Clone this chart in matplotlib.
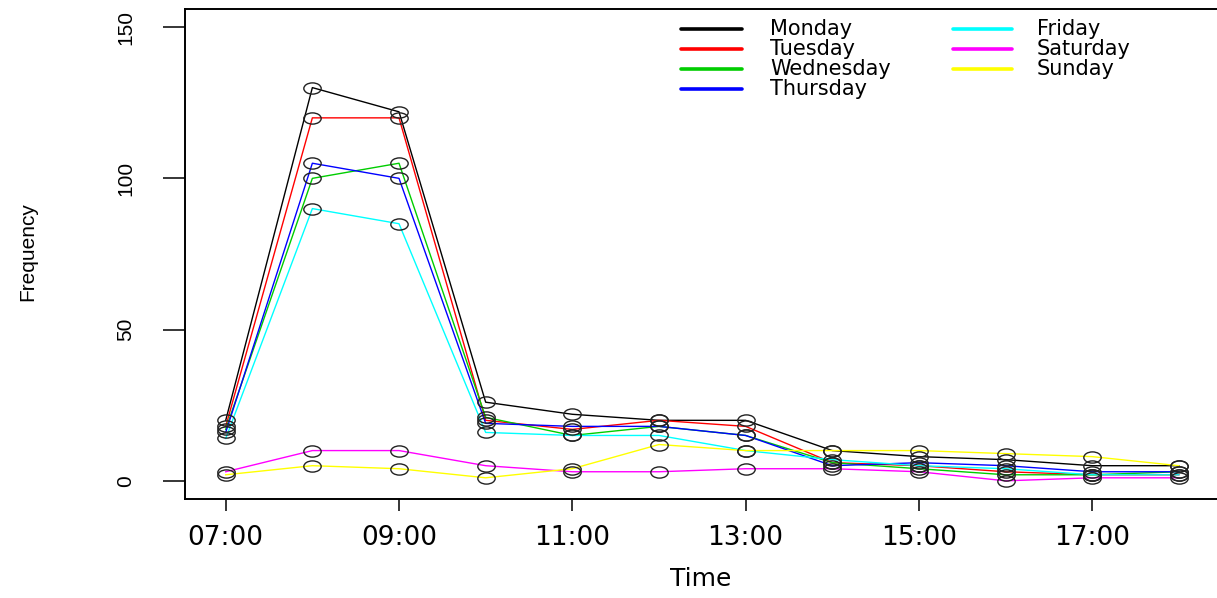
import numpy as np
import matplotlib
matplotlib.use("Agg")
import matplotlib.pyplot as plt
from matplotlib.path import Path

# hour of day for each observation
hours = [7, 8, 9, 10, 11, 12, 13, 14, 15, 16, 17, 18]

monday = [20, 130, 122, 26, 22, 20, 20, 10, 8, 7, 5, 5]
tuesday = [18, 120, 120, 20, 17, 20, 18, 6, 5, 3, 2, 2]
wednesday = [17, 100, 105, 21, 15, 18, 15, 6, 4, 2, 2, 3]
thursday = [16, 105, 100, 19, 18, 18, 15, 5, 6, 5, 3, 3]
friday = [14, 90, 85, 16, 15, 15, 10, 7, 5, 4, 2, 2]
saturday = [3, 10, 10, 5, 3, 3, 4, 4, 3, 0, 1, 1]
sunday = [2, 5, 4, 1, 4, 12, 10, 10, 10, 9, 8, 5]

day_names = ["Monday", "Tuesday", "Wednesday", "Thursday",
             "Friday", "Saturday", "Sunday"]
day_colors = ["black", "#FF0000", "#00CD00", "#0000FF",
              "#00FFFF", "#FF00FF", "#FFFF00"]

tick_hours = [7, 9, 11, 13, 15, 17]
tick_labels = ["07:00", "09:00", "11:00", "13:00", "15:00", "17:00"]
y_ticks = [0, 50, 100, 150]

series = [monday, tuesday, wednesday, thursday, friday, saturday, sunday]

# R-style open circle, squashed like the stretched original
circ = Path.unit_circle()
ellipse = Path(circ.vertices * np.array([1.55, 1.0]), circ.codes)

fig = plt.figure(figsize=(12.17, 5.98), dpi=100)
ax = fig.add_axes([0.152, 0.1656, 0.848, 0.8194])

for vals, col in zip(series, day_colors):
    ax.plot(hours, vals, color=col, lw=1.0, zorder=2)
for vals in series:
    ax.plot(hours, vals, ls="none", marker=ellipse, markersize=12.5,
            mfc="none", mec="#222222", mew=1.0, zorder=3)

ax.set_xlim(6.53, 18.44)
ax.set_ylim(-6, 156)

ax.set_xticks(tick_hours)
ax.set_xticklabels(tick_labels, fontsize=19, family="DejaVu Sans")
ax.set_yticks(y_ticks)
ax.set_yticklabels([str(v) for v in y_ticks], rotation=90, va="center",
                   fontsize=15, family="Liberation Sans")
ax.tick_params(axis="x", length=8.6, width=1.1, pad=10)
ax.tick_params(axis="y", length=15.8, width=1.1, pad=20)

for side in ["left", "bottom", "top"]:
    ax.spines[side].set_linewidth(1.4)
ax.spines["right"].set_visible(False)

ax.set_xlabel("Time", fontsize=18, family="DejaVu Sans", labelpad=12)
ax.set_ylabel("Frequency", fontsize=15, family="Liberation Sans", va="center")
ax.yaxis.set_label_coords(-0.152, 0.504)

# two-column legend without a frame, top right
line_x = [(0.4806, 0.5397), (0.7442, 0.8014)]
text_x = [0.5669, 0.8256]
row_y = [0.9586, 0.9178, 0.8769, 0.8361]
for i, (name, col) in enumerate(zip(day_names, day_colors)):
    c, r = i // 4, i % 4
    ax.plot(line_x[c], [row_y[r], row_y[r]], color=col, lw=2.6,
            solid_capstyle="round", transform=ax.transAxes, clip_on=False)
    ax.text(text_x[c], row_y[r], name, transform=ax.transAxes, fontsize=15,
            family="DejaVu Sans", va="center", ha="left")

fig.savefig("out.png", dpi=100)
